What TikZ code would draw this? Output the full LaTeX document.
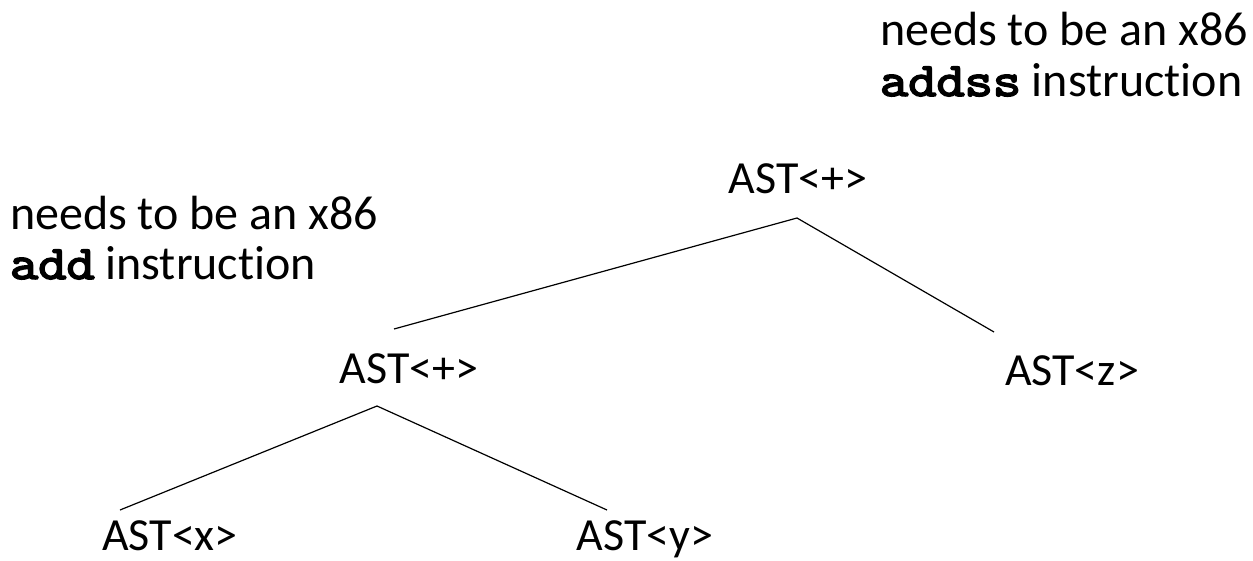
\documentclass[tikz,border=0pt]{standalone}
\usepackage{graphicx}
\usepackage{fontspec}
\setmainfont{Carlito}[Ligatures=NoCommon]
% heavy slab-serif monospace for instruction mnemonics
\newfontfamily\codefont{lmmono10-regular.otf}[AutoFakeBold=3.2]
\newcommand{\mnem}[1]{\scalebox{1.12}[1]{\codefont\bfseries #1}}
\begin{document}
\begin{tikzpicture}[x=1pt,y=-1pt,
  every node/.style={inner sep=0pt,outer sep=0pt},
  astnode/.style={anchor=base,font=\fontsize{46}{52}\selectfont},
  note/.style={anchor=base west,font=\fontsize{48}{52}\selectfont},
  edge/.style={draw=black,line width=1.2pt}]
  \useasboundingbox (0,0) rectangle (1253,560);

  % annotations
  \node[note] (n1a) at (880,45) {needs to be an x86};
  \node[note] (n1b) at (880,96) {\mnem{addss} instruction};
  \node[note] (n2a) at (10,229) {needs to be an x86};
  \node[note] (n2b) at (10,279) {\mnem{add} instruction};

  % tree nodes
  \node[astnode] (root) at (798,193) {AST<+>};
  \node[astnode] (mid)  at (409,383) {AST<+>};
  \node[astnode] (z)    at (1072,385) {AST<z>};
  \node[astnode] (x)    at (170,550) {AST<x>};
  \node[astnode] (y)    at (645,550) {AST<y>};

  % edge end points
  \coordinate (rootfoot) at (797,218);
  \coordinate (midhead)  at (394,329);
  \coordinate (zhead)    at (994,332);
  \coordinate (midfoot)  at (377,406);
  \coordinate (xhead)    at (120,510);
  \coordinate (yhead)    at (607,510);

  \draw[edge] (midhead) -- (rootfoot) -- (zhead);
  \draw[edge] (xhead) -- (midfoot) -- (yhead);
\end{tikzpicture}
\end{document}
